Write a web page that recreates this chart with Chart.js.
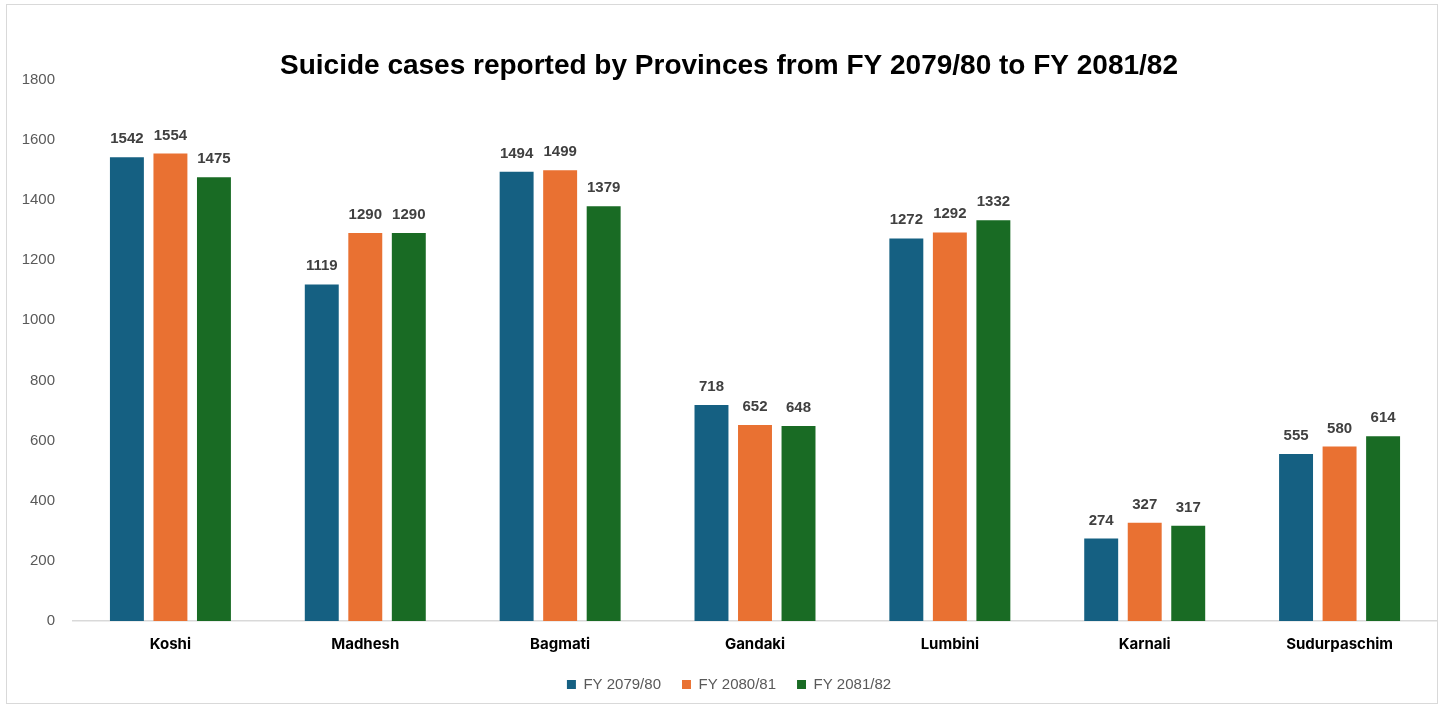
<!DOCTYPE html>
<html>
<head>
<meta charset="utf-8">
<script src="https://cdn.jsdelivr.net/npm/chart.js@4"></script>
<style>
  html, body { margin: 0; padding: 0; background: #ffffff; }
  #wrap { position: relative; width: 1446px; height: 710px; }
  #frame { position: absolute; left: 6px; top: 4px; width: 1432px; height: 700px; border: 1px solid #d9d9d9; box-sizing: border-box; pointer-events: none; }
  canvas { position: absolute; left: 0; top: 0; }
</style>
</head>
<body>
<div id="wrap">
  <canvas id="c" width="1446" height="710"></canvas>
  <div id="frame"></div>
</div>
<script>
const title = "Suicide cases reported by Provinces from FY 2079/80 to FY 2081/82";
const provinces = ["Koshi", "Madhesh", "Bagmati", "Gandaki", "Lumbini", "Karnali", "Sudurpaschim"];
const seriesNames = ["FY 2079/80", "FY 2080/81", "FY 2081/82"];
const fy7980 = [1542, 1119, 1494, 718, 1272, 274, 555];
const fy8081 = [1554, 1290, 1499, 652, 1292, 327, 580];
const fy8182 = [1475, 1290, 1379, 648, 1332, 317, 614];
const yTicks = [0, 200, 400, 600, 800, 1000, 1200, 1400, 1600, 1800];
const colors = ["#156082", "#E97132", "#196B24"];

const valueLabels = {
  id: "valueLabels",
  afterDatasetsDraw(chart) {
    const ctx = chart.ctx;
    ctx.save();
    ctx.font = "bold 15px 'Liberation Sans', Arial, sans-serif";
    ctx.fillStyle = "#404040";
    ctx.textAlign = "center";
    ctx.textBaseline = "alphabetic";
    chart.data.datasets.forEach((ds, i) => {
      const meta = chart.getDatasetMeta(i);
      meta.data.forEach((el, j) => {
        ctx.fillText(String(ds.data[j]), el.x, el.y - 14);
      });
    });
    ctx.restore();
  }
};

new Chart(document.getElementById("c"), {
  type: "bar",
  data: {
    labels: provinces,
    datasets: [
      { label: seriesNames[0], data: fy7980, backgroundColor: colors[0] },
      { label: seriesNames[1], data: fy8081, backgroundColor: colors[1] },
      { label: seriesNames[2], data: fy8182, backgroundColor: colors[2] }
    ]
  },
  options: {
    responsive: false,
    animation: false,
    devicePixelRatio: 1,
    layout: { padding: { left: 21, right: 9, top: 0, bottom: 8 } },
    datasets: { bar: { categoryPercentage: 0.67, barPercentage: 0.78 } },
    plugins: {
      title: {
        display: true,
        text: title,
        color: "#000000",
        font: { family: "'Liberation Sans', Arial, sans-serif", size: 28, weight: "bold" },
        padding: { top: 49, bottom: -3 }
      },
      legend: {
        position: "bottom",
        labels: {
          boxWidth: 9,
          boxHeight: 9,
          color: "#595959",
          padding: 21,
          font: { family: "'Liberation Sans', Arial, sans-serif", size: 15 }
        }
      },
      tooltip: { enabled: false }
    },
    scales: {
      x: {
        afterFit(scale) { scale.height = 35; },
        grid: { display: false, drawTicks: false },
        border: { display: true, color: "#d9d9d9", width: 1.5 },
        ticks: {
          color: "#000000",
          padding: 14,
          font: { family: "Inter, 'Open Sans', sans-serif", size: 15, weight: "bold" }
        }
      },
      y: {
        min: 0,
        max: 1800,
        afterBuildTicks(scale) { scale.ticks = yTicks.map(v => ({ value: v })); },
        afterFit(scale) { scale.width = 52; },
        grid: { display: false, drawTicks: false },
        border: { display: false },
        ticks: {
          color: "#595959",
          padding: 18,
          callback: (v) => String(v),
          font: { family: "'Liberation Sans', Arial, sans-serif", size: 15 }
        }
      }
    }
  },
  plugins: [valueLabels]
});
</script>
</body>
</html>
